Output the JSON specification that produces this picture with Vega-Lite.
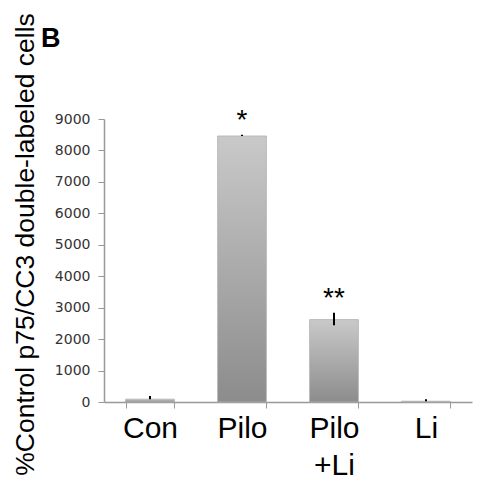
{
  "$schema": "https://vega.github.io/schema/vega-lite/v6.json",
  "autosize": "none",
  "width": 368,
  "height": 283,
  "padding": {"left": 104, "top": 119, "right": 21, "bottom": 79},
  "background": "white",
  "view": {"stroke": null},
  "title": {
    "text": "B",
    "anchor": "start",
    "frame": "group",
    "dx": -63,
    "offset": 0,
    "dy": 61,
    "baseline": "alphabetic",
    "font": "Liberation Sans",
    "fontSize": 27,
    "fontWeight": "bold",
    "color": "black"
  },
  "data": {
    "values": [
      {"group": "Con", "mean": 90, "hi": 190, "lo": 90, "sig": ""},
      {"group": "Pilo", "mean": 8460, "hi": 8500, "lo": 8460, "sig": "*"},
      {"group": "Pilo+Li", "mean": 2620, "hi": 2840, "lo": 2440, "sig": "**"},
      {"group": "Li", "mean": 25, "hi": 90, "lo": 25, "sig": ""}
    ]
  },
  "encoding": {
    "x": {
      "field": "group",
      "type": "nominal",
      "sort": null,
      "scale": {"paddingInner": 0.47, "paddingOuter": 0.235},
      "axis": {
        "title": null,
        "labelAngle": 0,
        "labelFont": "Liberation Sans",
        "labelFontSize": 30,
        "labelColor": "black",
        "labelPadding": 5,
        "labelLineHeight": 37,
        "labelExpr": "datum.value == 'Pilo+Li' ? ['Pilo', '+Li'] : datum.label",
        "tickBand": "extent",
        "tickSize": 6,
        "tickColor": "#999999",
        "domainColor": "#999999",
        "domainWidth": 1.5
      }
    }
  },
  "resolve": {"axis": {"y": "independent"}},
  "layer": [
    {
      "mark": {
        "type": "bar",
        "color": {
          "gradient": "linear",
          "x1": 0, "y1": 0, "x2": 0, "y2": 1,
          "stops": [
            {"offset": 0, "color": "#c9c9c9"},
            {"offset": 1, "color": "#8c8c8c"}
          ]
        },
        "stroke": "#b0b0b0",
        "strokeWidth": 0.8
      },
      "encoding": {
        "y": {
          "field": "mean",
          "type": "quantitative",
          "scale": {"domain": [0, 9000]},
          "axis": {
            "title": "%Control p75/CC3 double-labeled cells",
            "titleFont": "Liberation Sans",
            "titleFontSize": 26.5,
            "titleFontWeight": "normal",
            "titleColor": "black",
            "titleAngle": -90,
            "titleAlign": "center",
            "titleBaseline": "alphabetic",
            "titleX": -71,
            "titleY": 125,
            "values": [0, 1000, 2000, 3000, 4000, 5000, 6000, 7000, 8000, 9000],
            "format": "d",
            "labelOverlap": false,
            "grid": false,
            "labelFont": "DejaVu Sans",
            "labelFontSize": 14,
            "labelColor": "#333333",
            "labelPadding": 8,
            "tickSize": 6,
            "tickColor": "#999999",
            "domainColor": "#999999",
            "domainWidth": 1.5
          }
        }
      }
    },
    {
      "mark": {"type": "rule", "color": "black", "strokeWidth": 2},
      "encoding": {
        "y": {"field": "lo", "type": "quantitative", "axis": null},
        "y2": {"field": "hi"}
      }
    },
    {
      "mark": {
        "type": "text",
        "font": "Liberation Sans",
        "fontSize": 28,
        "color": "black",
        "baseline": "alphabetic",
        "dy": -6
      },
      "encoding": {
        "y": {"field": "hi", "type": "quantitative", "axis": null},
        "text": {"field": "sig"}
      }
    }
  ]
}
